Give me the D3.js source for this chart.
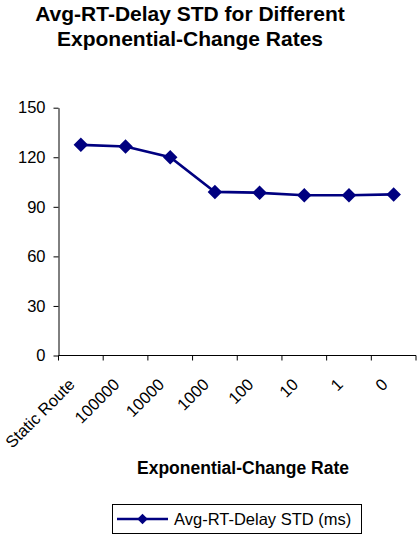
<!DOCTYPE html>
<html>
<head>
<meta charset="utf-8">
<script src="https://cdn.jsdelivr.net/npm/d3@7"></script>
<style>
  html, body { margin: 0; padding: 0; background: #fff; }
  svg { display: block; font-family: "Liberation Sans", Arial, sans-serif; }
</style>
</head>
<body>
<svg id="chart" width="417" height="537"></svg>
<script>
// Change-rate categories along the x axis
const categories = ["Static Route", "100000", "10000", "1000", "100", "10", "1", "0"];
// Average round-trip delay standard deviation (ms) per category
const stdValues = [127.5, 126.5, 120, 99, 98.5, 97, 97, 97.5];
// Y axis ticks
const yTicks = [0, 30, 60, 90, 120, 150];
const seriesName = "Avg-RT-Delay STD (ms)";
const titleLines = ["Avg-RT-Delay STD for Different", "Exponential-Change Rates"];
const xTitle = "Exponential-Change Rate";

const color = "#000080";
const svg = d3.select("#chart");

const plot = { left: 58.5, right: 416, top: 107.7, bottom: 355.5 };

const x = d3.scaleBand().domain(categories).range([plot.left, plot.right]);
const y = d3.scaleLinear().domain([0, 150]).range([plot.bottom, plot.top]);

// Diamond symbol: size is the square of the full diagonal
const diamond = {
  draw(ctx, size) {
    const r = Math.sqrt(size) / 2;
    ctx.moveTo(0, -r);
    ctx.lineTo(r, 0);
    ctx.lineTo(0, r);
    ctx.lineTo(-r, 0);
    ctx.closePath();
  }
};

// Title
svg.append("g").selectAll("text").data(titleLines).join("text")
  .attr("x", 190)
  .attr("y", (d, i) => 21 + i * 24.5)
  .attr("text-anchor", "middle")
  .attr("font-size", 21)
  .attr("font-weight", "bold")
  .text(d => d);

// Y axis
const yAxis = svg.append("g")
  .attr("transform", `translate(${plot.left},0)`)
  .call(d3.axisLeft(y).tickValues(yTicks).tickSize(5).tickPadding(8).tickSizeOuter(0));
yAxis.selectAll("text")
  .attr("font-size", 16.5)
  .attr("fill", "#000")
  .attr("font-family", "Liberation Sans, Arial, sans-serif");
yAxis.selectAll("line, path").attr("stroke", "#000");

// X axis: ticks on band boundaries
const xAxisG = svg.append("g").attr("transform", `translate(0,${plot.bottom})`);
xAxisG.append("line")
  .attr("x1", plot.left).attr("x2", plot.right)
  .attr("stroke", "#000");
const bounds = categories.map(c => x(c)).concat([plot.right]);
xAxisG.selectAll("line.tick").data(bounds).join("line")
  .attr("class", "tick")
  .attr("x1", d => d).attr("x2", d => d)
  .attr("y1", 0).attr("y2", 5)
  .attr("stroke", "#000");
xAxisG.selectAll("text").data(categories).join("text")
  .attr("transform", d => `translate(${x(d) + x.bandwidth() / 2 - 5},${30}) rotate(-45)`)
  .attr("text-anchor", "end")
  .attr("font-size", 16.5)
  .text(d => d);

// X axis title
svg.append("text")
  .attr("x", 243)
  .attr("y", 473.5)
  .attr("text-anchor", "middle")
  .attr("font-size", 17.5)
  .attr("font-weight", "bold")
  .text(xTitle);

// Series line
const pts = categories.map((c, i) => [x(c) + x.bandwidth() / 2, y(stdValues[i])]);
svg.append("path")
  .attr("d", d3.line()(pts))
  .attr("fill", "none")
  .attr("stroke", color)
  .attr("stroke-width", 2.7);

svg.append("g").selectAll("path").data(pts).join("path")
  .attr("transform", d => `translate(${d[0]},${d[1]})`)
  .attr("d", d3.symbol().type(diamond).size(14.5 * 14.5))
  .attr("fill", color);

// Legend
const lg = svg.append("g");
lg.append("rect")
  .attr("x", 112.5).attr("y", 504.5)
  .attr("width", 249).attr("height", 29)
  .attr("fill", "#fff")
  .attr("stroke", "#000");
lg.append("line")
  .attr("x1", 117).attr("x2", 168)
  .attr("y1", 519).attr("y2", 519)
  .attr("stroke", color).attr("stroke-width", 2.7);
lg.append("path")
  .attr("transform", "translate(142.5,519)")
  .attr("d", d3.symbol().type(diamond).size(10.5 * 10.5))
  .attr("fill", color);
lg.append("text")
  .attr("x", 174).attr("y", 525)
  .attr("font-size", 16.5)
  .text(seriesName);
</script>
</body>
</html>
